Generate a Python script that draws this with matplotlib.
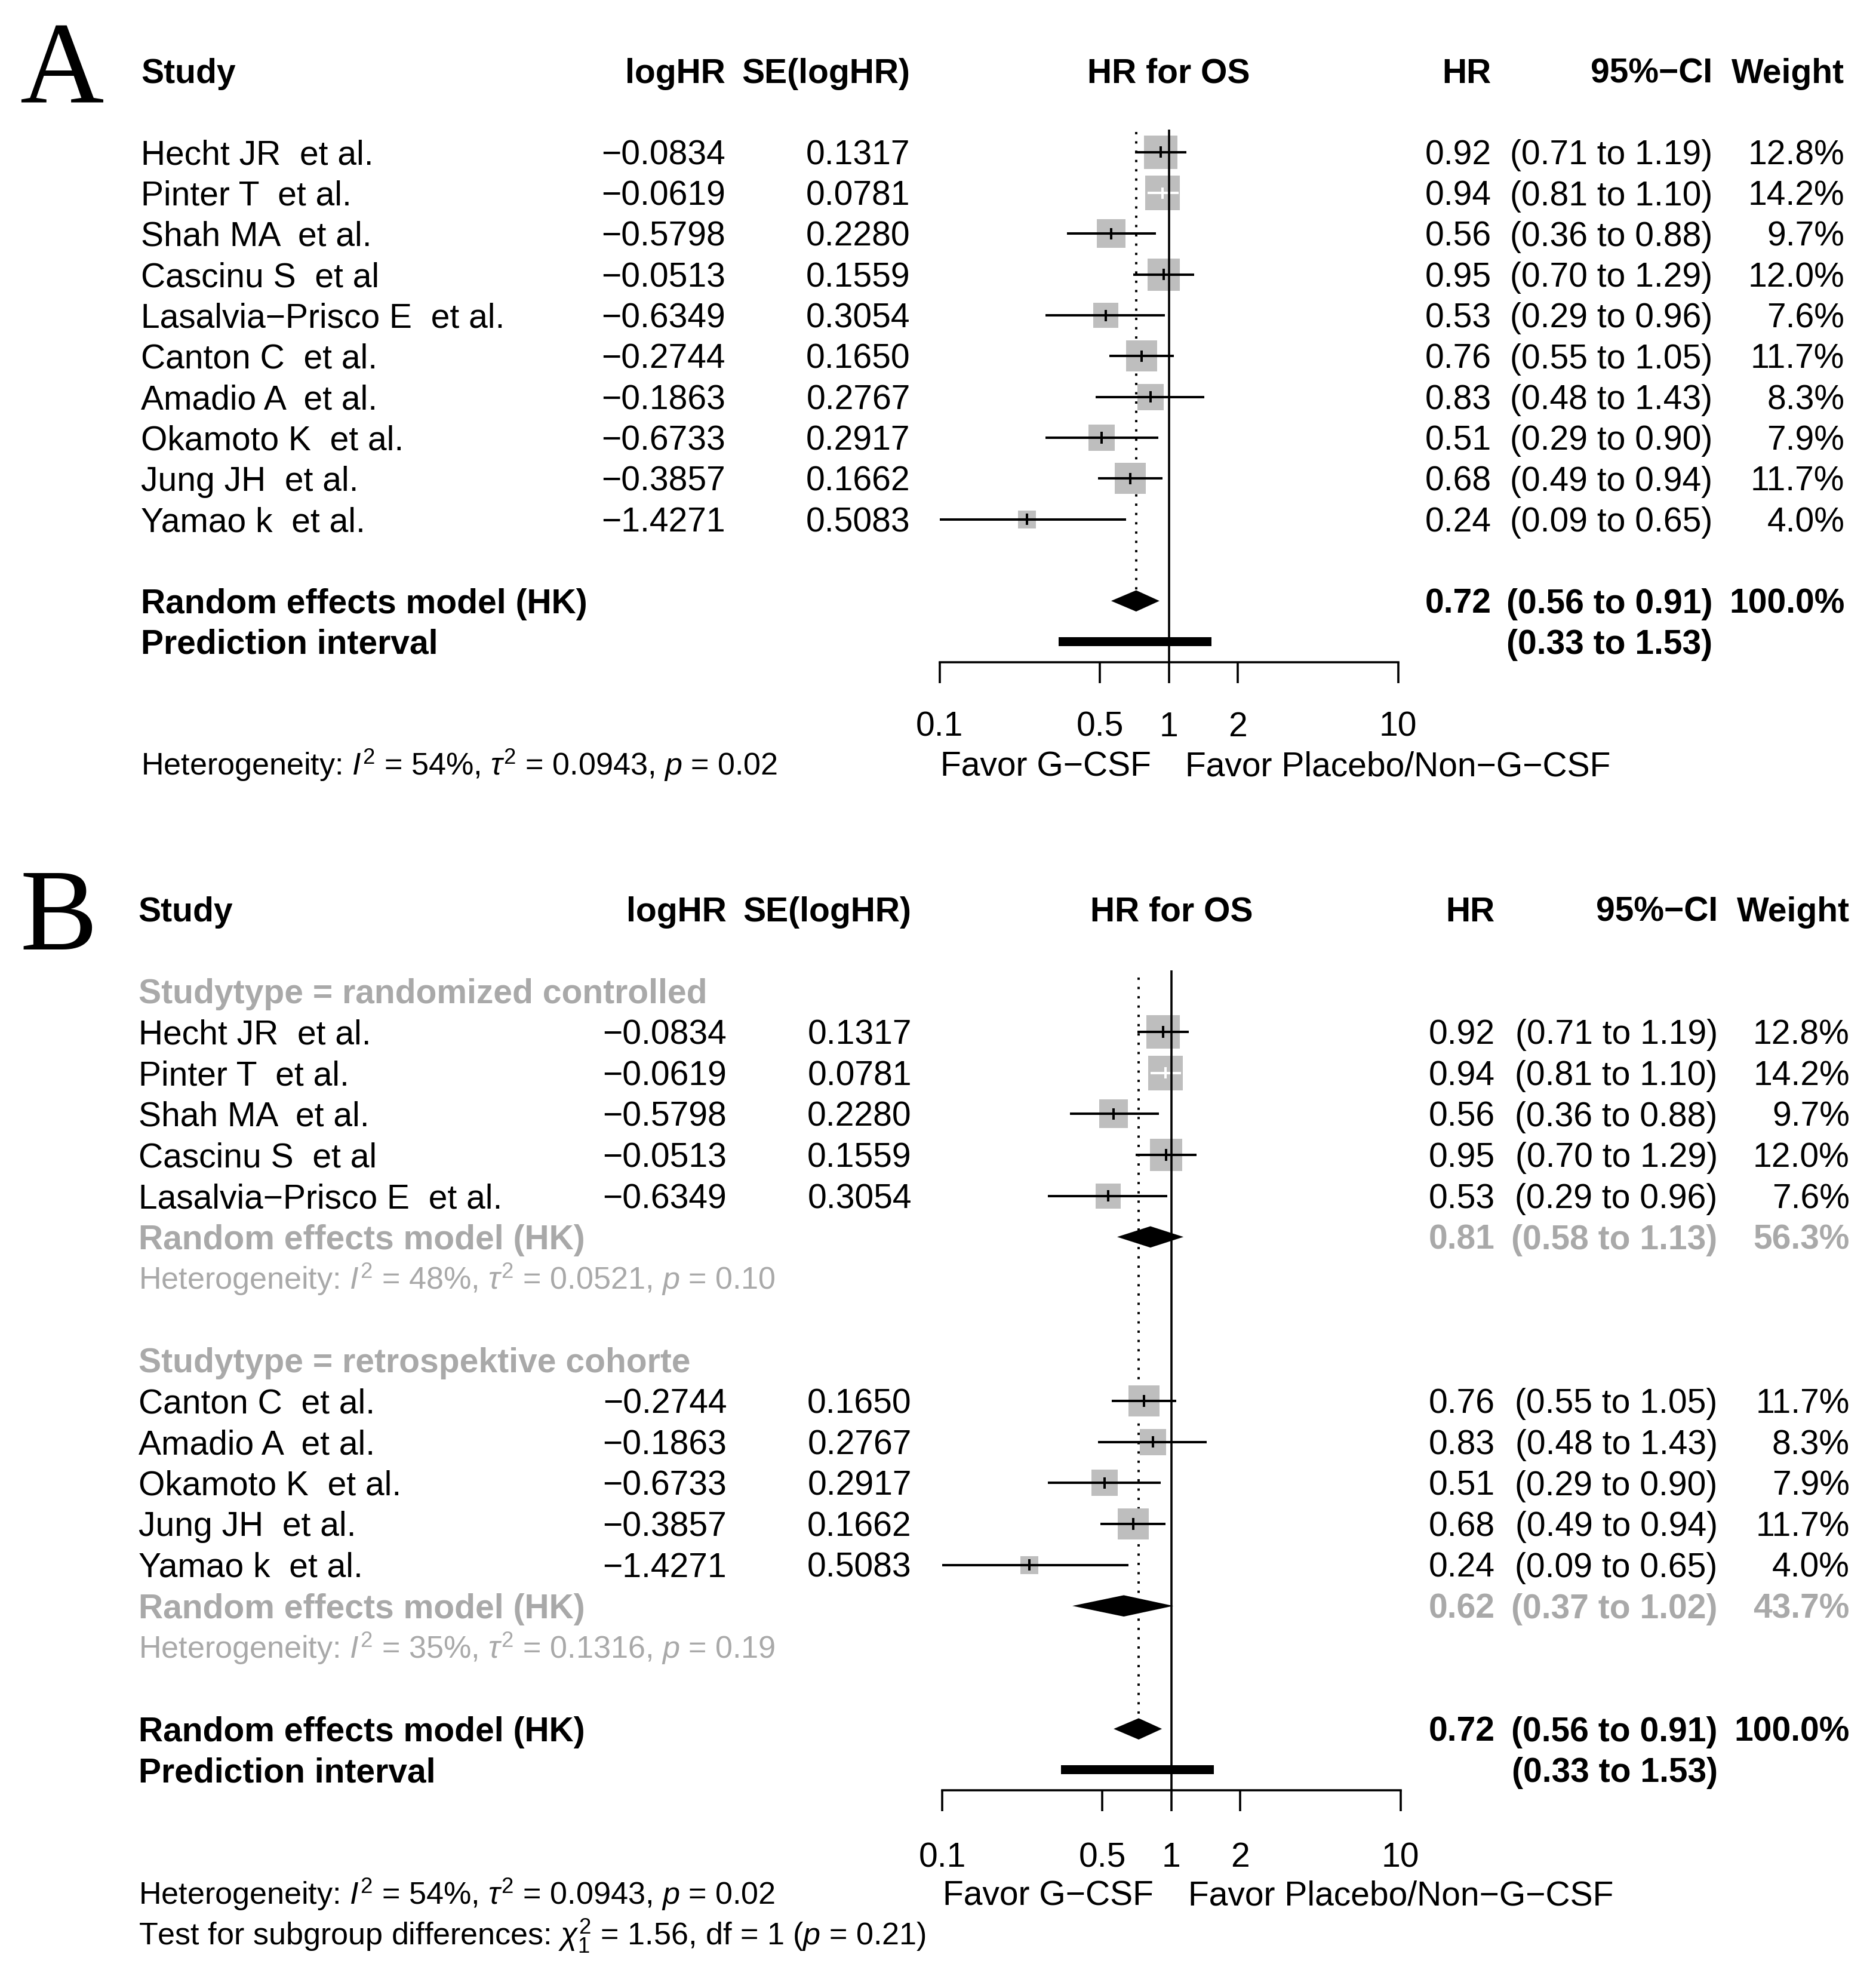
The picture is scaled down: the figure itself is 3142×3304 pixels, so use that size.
import matplotlib
matplotlib.use("Agg")
import matplotlib.pyplot as plt
import matplotlib.transforms as mtransforms
from matplotlib.patches import Rectangle
import numpy as np

plt.rcParams['font.family'] = ['Liberation Sans', 'DejaVu Sans']
plt.rcParams['mathtext.fontset'] = 'custom'
plt.rcParams['mathtext.rm'] = 'Liberation Sans'
plt.rcParams['mathtext.it'] = 'Liberation Sans:italic'
plt.rcParams['mathtext.bf'] = 'Liberation Sans:bold'

# Study data
studies = ["Hecht JR  et al.", "Pinter T  et al.", "Shah MA  et al.", "Cascinu S  et al",
           "Lasalvia\u2212Prisco E  et al.", "Canton C  et al.", "Amadio A  et al.",
           "Okamoto K  et al.", "Jung JH  et al.", "Yamao k  et al."]
loghr = [-0.0834, -0.0619, -0.5798, -0.0513, -0.6349, -0.2744, -0.1863, -0.6733, -0.3857, -1.4271]
se = [0.1317, 0.0781, 0.2280, 0.1559, 0.3054, 0.1650, 0.2767, 0.2917, 0.1662, 0.5083]
hr = [0.92, 0.94, 0.56, 0.95, 0.53, 0.76, 0.83, 0.51, 0.68, 0.24]
lower = [0.71, 0.81, 0.36, 0.70, 0.29, 0.55, 0.48, 0.29, 0.49, 0.09]
upper = [1.19, 1.10, 0.88, 1.29, 0.96, 1.05, 1.43, 0.90, 0.94, 0.65]
weight = [12.8, 14.2, 9.7, 12.0, 7.6, 11.7, 8.3, 7.9, 11.7, 4.0]
studytype = ["randomized controlled"] * 5 + ["retrospektive cohorte"] * 5

# Subgroups
sub_names = ["randomized controlled", "retrospektive cohorte"]
sub_hr = [0.81, 0.62]
sub_lower = [0.58, 0.37]
sub_upper = [1.13, 1.02]
sub_weight = [56.3, 43.7]
sub_i2 = [48, 35]
sub_tau2 = [0.0521, 0.1316]
sub_p = [0.10, 0.19]

# Overall
re_hr, re_lower, re_upper = 0.72, 0.56, 0.91
pi_lower, pi_upper = 0.33, 1.53
all_i2, all_tau2, all_p = 54, 0.0943, 0.02
chi2, chi_df, chi_p = 1.56, 1, 0.21

ticks = [0.1, 0.5, 1, 2, 10]
tick_labels = ["0.1", "0.5", "1", "2", "10"]

W, H = 3142, 3304
DW = 1492.0            # width of the view the layout was measured on
S = W / DW
DH = H / S
FS = 41                # table text
FSH = 37.5             # heterogeneity lines
GREY = "#A9A9A9"
SQ = "#BEBEBE"
MINUS = "\u2212"
LW = 2.6

fig = plt.figure(figsize=(W / 100, H / 100), dpi=100)


def fx(px):
    return px / DW


def fy(py):
    return 1 - py / DH


def het_text(i2, t2, p):
    return r"Heterogeneity: $I^2$ = %d%%, $\tau^2$ = %.4f, $p$ = %.2f" % (i2, t2, p)


def make_ax(x0, x1, base, step, r_top, r_bot, pad):
    ytop = base + step * r_top
    ybot = base + step * r_bot
    ax = fig.add_axes([fx(x0), fy(ybot), fx(x1) - fx(x0), fy(ytop) - fy(ybot)])
    ax.set_xscale('log')
    ax.set_xlim(0.1, 10)
    ax.set_ylim(r_bot, r_top)
    ax.patch.set_alpha(0)
    for s in ['left', 'top', 'right']:
        ax.spines[s].set_visible(False)
    ax.spines['bottom'].set_linewidth(LW)
    ax.set_yticks([])
    ax.set_xticks(ticks)
    ax.set_xticklabels(tick_labels)
    ax.minorticks_off()
    ax.tick_params(axis='x', length=25, width=LW, labelsize=FS, pad=pad)
    return ax


def decade_px(ax):
    return ax.get_position().width * W / 2.0


def draw_study(ax, r, i):
    est = np.exp(loghr[i])
    side = 41.8 * np.sqrt(weight[i] / 14.2)
    ax.scatter([est], [r], s=side ** 2, marker='s', color=SQ, linewidths=0, zorder=3)
    half = side * 100 / 72 / 2 / decade_px(ax)
    inside = (np.log10(lower[i]) >= np.log10(est) - half) and (np.log10(upper[i]) <= np.log10(est) + half)
    c = 'white' if inside else 'black'
    ax.plot([lower[i], upper[i]], [r, r], color=c, lw=2.9, zorder=4, solid_capstyle='butt')
    ax.plot([est, est], [r - 0.14, r + 0.14], color=c, lw=2.9, zorder=4, solid_capstyle='butt')


def draw_diamond(ax, r, est, lo, hi):
    ax.fill([lo, est, hi, est], [r, r - 0.26, r, r + 0.26], color='black', lw=0, zorder=5)


def put(ax, x_px, r, s, ha='left', color='black', weight_='normal', size=FS):
    # baseline placed so that the cap height is centred on the row
    tr = mtransforms.blended_transform_factory(fig.transFigure, ax.transData)
    tr = mtransforms.offset_copy(tr, fig=fig, y=-0.358 * size, units='points')
    ax.text(fx(x_px), r, s, transform=tr, ha=ha, va='baseline', fontsize=size,
            color=color, fontweight=weight_, clip_on=False)


def row_text(ax, cols, r, vals, color='black', weight_='normal'):
    for (x, ha), v in zip(cols, vals):
        if v is not None:
            put(ax, x, r, v, ha=ha, color=color, weight_=weight_)


def put_data(ax, xdata, r, s, dx_pt=0, ha='center', weight_='normal'):
    tr = mtransforms.offset_copy(ax.transData, fig=fig, x=dx_pt, y=-0.358 * FS, units='points')
    ax.text(xdata, r, s, transform=tr, ha=ha, va='baseline', fontsize=FS,
            fontweight=weight_, clip_on=False)


def fmt_log(v):
    return ("%.4f" % v).replace('-', MINUS)


def favor_labels(ax, r):
    put_data(ax, 1, r, "Favor G\u2212CSF", dx_pt=-21.6, ha='right')
    put_data(ax, 1, r, "Favor Placebo/Non\u2212G\u2212CSF", dx_pt=20, ha='left')


headers = ["Study", "logHR", "SE(logHR)", "HR", "95%\u2212CI", "Weight"]

# ---------------- Panel A ----------------
baseA, stepA = 121, 32.44
axA = make_ax(747.2, 1112, baseA, stepA, -3, 12.5, pad=34)
colsA = [(112, 'left'), (577, 'right'), (724, 'right'), (1186, 'right'), (1362, 'right'), (1467, 'right')]

fig.text(fx(15.7), fy(82.1), "A", fontsize=140, family='Liberation Serif', va='baseline', ha='left')
row_text(axA, colsA, -2, headers, weight_='bold')
put_data(axA, 1, -2, "HR for OS", weight_='bold')

for i in range(len(studies)):
    draw_study(axA, i, i)
    row_text(axA, colsA, i, [studies[i], fmt_log(loghr[i]), "%.4f" % se[i], "%.2f" % hr[i],
                             "(%.2f to %.2f)" % (lower[i], upper[i]), "%.1f%%" % weight[i]])

r_re = len(studies) + 1
draw_diamond(axA, r_re, re_hr, re_lower, re_upper)
row_text(axA, colsA, r_re, ["Random effects model (HK)", None, None, "%.2f" % re_hr,
                            "(%.2f to %.2f)" % (re_lower, re_upper), "100.0%"], weight_='bold')
axA.add_patch(Rectangle((pi_lower, r_re + 1 - 0.11), pi_upper - pi_lower, 0.22, color='black', lw=0))
row_text(axA, colsA, r_re + 1, ["Prediction interval", None, None, None,
                                "(%.2f to %.2f)" % (pi_lower, pi_upper), None], weight_='bold')
axA.plot([1, 1], [-0.55, 12.5], color='black', lw=LW, zorder=6, clip_on=False, solid_capstyle='butt')
axA.plot([re_hr, re_hr], [-0.5, r_re - 0.26], color='black', lw=2.8, ls=(0, (1, 3)), zorder=1)
put(axA, colsA[0][0], 15, het_text(all_i2, all_tau2, all_p), size=FSH)
favor_labels(axA, 15)

# ---------------- Panel B ----------------
baseB, stepB = 788, 32.6
axB = make_ax(749.3, 1113.9, baseB, stepB, -3, 19.5, pad=37)
colsB = [(110, 'left'), (578, 'right'), (725, 'right'), (1189, 'right'), (1366, 'right'), (1471, 'right')]

fig.text(fx(15.7), fy(755), "B", fontsize=140, family='Liberation Serif', va='baseline', ha='left')
row_text(axB, colsB, -2, headers, weight_='bold')
put_data(axB, 1, -2, "HR for OS", weight_='bold')

r = 0
for g, name in enumerate(sub_names):
    put(axB, colsB[0][0], r, "Studytype = " + name, color=GREY, weight_='bold')
    r += 1
    for i in range(len(studies)):
        if studytype[i] != name:
            continue
        draw_study(axB, r, i)
        row_text(axB, colsB, r, [studies[i], fmt_log(loghr[i]), "%.4f" % se[i], "%.2f" % hr[i],
                                 "(%.2f to %.2f)" % (lower[i], upper[i]), "%.1f%%" % weight[i]])
        r += 1
    draw_diamond(axB, r, sub_hr[g], sub_lower[g], sub_upper[g])
    row_text(axB, colsB, r, ["Random effects model (HK)", None, None, "%.2f" % sub_hr[g],
                             "(%.2f to %.2f)" % (sub_lower[g], sub_upper[g]), "%.1f%%" % sub_weight[g]],
             color=GREY, weight_='bold')
    r += 1
    put(axB, colsB[0][0], r, het_text(sub_i2[g], sub_tau2[g], sub_p[g]), color=GREY, size=FSH)
    r += 2

draw_diamond(axB, r, re_hr, re_lower, re_upper)
row_text(axB, colsB, r, ["Random effects model (HK)", None, None, "%.2f" % re_hr,
                         "(%.2f to %.2f)" % (re_lower, re_upper), "100.0%"], weight_='bold')
axB.add_patch(Rectangle((pi_lower, r + 1 - 0.11), pi_upper - pi_lower, 0.22, color='black', lw=0))
row_text(axB, colsB, r + 1, ["Prediction interval", None, None, None,
                             "(%.2f to %.2f)" % (pi_lower, pi_upper), None], weight_='bold')
axB.plot([1, 1], [-0.5, 19.5], color='black', lw=LW, zorder=6, clip_on=False, solid_capstyle='butt')
axB.plot([re_hr, re_hr], [-0.33, r - 0.26], color='black', lw=2.8, ls=(0, (1, 3)), zorder=1)
put(axB, colsB[0][0], 22, het_text(all_i2, all_tau2, all_p), size=FSH)
put(axB, colsB[0][0], 23, r"Test for subgroup differences: $\chi^2_1$ = %.2f, df = %d ($p$ = %.2f)"
    % (chi2, chi_df, chi_p), size=FSH)
favor_labels(axB, 22)

fig.savefig("out.png", dpi=100, facecolor='white')
